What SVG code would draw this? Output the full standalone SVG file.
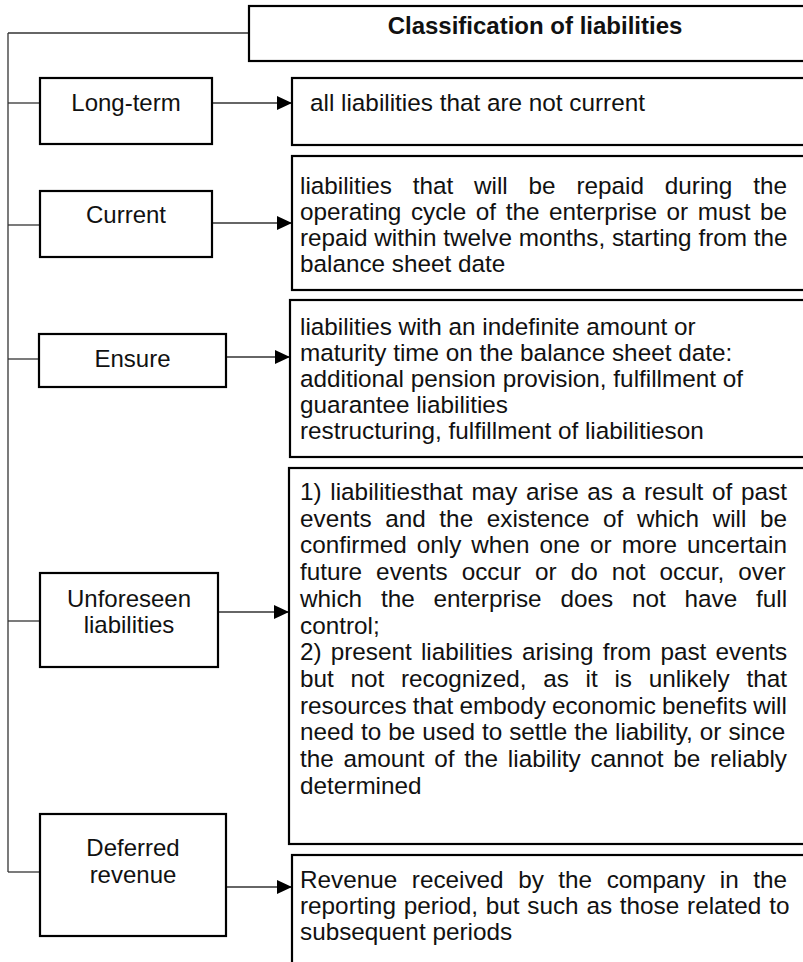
<svg xmlns="http://www.w3.org/2000/svg" width="803" height="962" viewBox="0 0 803 962">
<style>
.box{fill:#fff;stroke:#000;stroke-width:2.2}
.ln{fill:none;stroke:#333;stroke-width:1.3}
.t{font-family:"Liberation Sans",Arial,sans-serif;font-size:24px;fill:#111}
.d{font-family:"Liberation Sans",Arial,sans-serif;font-size:24.3px;fill:#111}
.c{text-anchor:middle}
.b{font-weight:bold}
</style>
<defs>
<marker id="ah" markerWidth="15" markerHeight="14" refX="15" refY="7" orient="auto" markerUnits="userSpaceOnUse">
<path d="M0,0 L15,7 L0,14 Z" fill="#000"/>
</marker>
</defs>
<g id="connectors">
<path class="ln" d="M8,33 V872"/>
<path class="ln" d="M8,33 H249"/>
<path class="ln" d="M8,103 H40"/>
<path class="ln" d="M8,225 H40"/>
<path class="ln" d="M8,359 H39"/>
<path class="ln" d="M8,621 H40"/>
<path class="ln" d="M8,872 H40"/>
<path class="ln" d="M212,103 H292" marker-end="url(#ah)"/>
<path class="ln" d="M212,223 H292" marker-end="url(#ah)"/>
<path class="ln" d="M226,357 H290" marker-end="url(#ah)"/>
<path class="ln" d="M218,612 H289" marker-end="url(#ah)"/>
<path class="ln" d="M226,887 H292" marker-end="url(#ah)"/>
</g>
<g id="title">
<rect class="box" x="249" y="6" width="600" height="55"/>
<text class="t b c" x="535" y="34">Classification of liabilities</text>
</g>
<g id="long-term">
<rect class="box" x="40" y="78" width="172" height="66"/>
<text class="t c" x="126" y="111">Long-term</text>
</g>
<g id="long-term-desc">
<rect class="box" x="292" y="78" width="600" height="67"/>
<text class="d" x="310" y="111">all liabilities that are not current</text>
</g>
<g id="current">
<rect class="box" x="40" y="191" width="172" height="66"/>
<text class="t c" x="126" y="223">Current</text>
</g>
<g id="current-desc">
<rect class="box" x="292" y="156" width="600" height="134"/>
<text class="d" x="300" y="194" word-spacing="14.08">liabilities that will be repaid during the</text>
<text class="d" x="300" y="220" word-spacing="2.82">operating cycle of the enterprise or must be</text>
<text class="d" x="300" y="246">repaid within twelve months, starting from the</text>
<text class="d" x="300" y="272">balance sheet date</text>
</g>
<g id="ensure">
<rect class="box" x="39" y="334" width="187" height="53"/>
<text class="t c" x="132.5" y="367">Ensure</text>
</g>
<g id="ensure-desc">
<rect class="box" x="290" y="300" width="600" height="157"/>
<text class="d" x="300" y="335">liabilities with an indefinite amount or</text>
<text class="d" x="300" y="361">maturity time on the balance sheet date:</text>
<text class="d" x="300" y="387">additional pension provision, fulfillment of</text>
<text class="d" x="300" y="413">guarantee liabilities</text>
<text class="d" x="300" y="439">restructuring, fulfillment of liabilitieson</text>
</g>
<g id="unforeseen">
<rect class="box" x="40" y="573" width="178" height="94"/>
<text class="t c" x="129" y="607">Unforeseen</text>
<text class="t c" x="129" y="633">liabilities</text>
</g>
<g id="unforeseen-desc">
<rect class="box" x="289" y="468" width="600" height="376"/>
<text class="d" x="300" y="500" word-spacing="1.96">1) liabilitiesthat may arise as a result of past</text>
<text class="d" x="300" y="526.7" word-spacing="6.87">events and the existence of which will be</text>
<text class="d" x="300" y="553.4" word-spacing="3.28">confirmed only when one or more uncertain</text>
<text class="d" x="300" y="580.1" word-spacing="7.24">future events occur or do not occur, over</text>
<text class="d" x="300" y="606.8" word-spacing="12.07">which the enterprise does not have full</text>
<text class="d" x="300" y="633.5">control;</text>
<text class="d" x="300" y="660.2" word-spacing="2.4">2) present liabilities arising from past events</text>
<text class="d" x="300" y="686.9" word-spacing="9.94">but not recognized, as it is unlikely that</text>
<text class="d" x="300" y="713.6" word-spacing="-0.66">resources that embody economic benefits will</text>
<text class="d" x="300" y="740.3" word-spacing="0.23">need to be used to settle the liability, or since</text>
<text class="d" x="300" y="767" word-spacing="3">the amount of the liability cannot be reliably</text>
<text class="d" x="300" y="793.7">determined</text>
</g>
<g id="deferred">
<rect class="box" x="40" y="814" width="186" height="122"/>
<text class="t c" x="133" y="856">Deferred</text>
<text class="t c" x="133" y="883">revenue</text>
</g>
<g id="deferred-desc">
<rect class="box" x="292" y="855" width="600" height="200"/>
<text class="d" x="300" y="888" word-spacing="7.78">Revenue received by the company in the</text>
<text class="d" x="300" y="914" word-spacing="1.03">reporting period, but such as those related to</text>
<text class="d" x="300" y="940">subsequent periods</text>
</g>
</svg>
